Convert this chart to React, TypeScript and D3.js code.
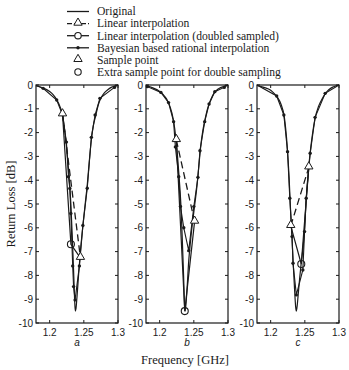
import React, { useRef, useEffect } from "react";
import * as d3 from "d3";

type Pt = [number, number];

const panelNames = ["a", "b", "c"];
const freqTicks = [1.2, 1.25, 1.3];
const lossTicks = [0, -1, -2, -3, -4, -5, -6, -7, -8, -9, -10];

const legendLabels = [
  "Original",
  "Linear interpolation",
  "Linear interpolation (doubled sampled)",
  "Bayesian based rational interpolation",
  "Sample point",
  "Extra sample point for double sampling",
];

// panel a
const originalA: Pt[] = [
  [1.18, -0.03], [1.19, -0.12], [1.2, -0.27], [1.205, -0.4], [1.21, -0.6],
  [1.215, -0.9], [1.219, -1.28], [1.222, -1.9], [1.225, -2.7], [1.228, -3.7],
  [1.231, -5.0], [1.233, -6.3], [1.235, -7.8], [1.2365, -9.0], [1.2375, -9.5],
  [1.2385, -9.4], [1.24, -8.9], [1.2425, -7.9], [1.245, -7.0], [1.2485, -5.95],
  [1.252, -5.0], [1.255, -4.2], [1.258, -3.2], [1.261, -2.3], [1.264, -1.7],
  [1.2675, -1.28], [1.271, -0.85], [1.275, -0.55], [1.28, -0.33], [1.285, -0.2],
  [1.29, -0.1], [1.295, -0.04], [1.3, 0],
];
const bayesA: Pt[] = [
  [1.18, -0.02], [1.1904, -0.14], [1.2103, -0.63], [1.2188, -1.25], [1.2245, -2.4],
  [1.2275, -3.85], [1.2295, -4.35], [1.231, -5.4], [1.2337, -7.6], [1.235, -8.47],
  [1.2372, -9.03], [1.2435, -7.6], [1.2486, -5.9], [1.255, -4.34], [1.261, -2.2],
  [1.2665, -1.26], [1.2735, -0.56], [1.2948, -0.1], [1.3, 0],
];
const linearA: Pt[] = [[1.2188, -1.23], [1.245, -7.26]];
const doubledA: Pt[] = [[1.2188, -1.23], [1.2311, -6.69], [1.245, -7.26]];

// panel b
const originalB: Pt[] = [
  [1.18, -0.02], [1.19, -0.12], [1.2, -0.27], [1.205, -0.4], [1.21, -0.58],
  [1.215, -0.9], [1.22, -1.45], [1.224, -2.3], [1.228, -3.7], [1.231, -5.0],
  [1.233, -6.4], [1.235, -8.0], [1.2365, -9.3], [1.2372, -9.5], [1.238, -9.35],
  [1.24, -8.6], [1.2425, -7.4], [1.245, -6.6], [1.248, -5.8], [1.251, -5.1],
  [1.254, -4.4], [1.257, -3.5], [1.26, -2.6], [1.263, -1.95], [1.266, -1.5],
  [1.27, -1.0], [1.275, -0.6], [1.28, -0.32], [1.285, -0.18], [1.29, -0.1],
  [1.295, -0.04], [1.3, 0],
];
const bayesB: Pt[] = [
  [1.18, 0], [1.182, -0.07], [1.2018, -0.31], [1.213, -0.74], [1.2204, -1.54],
  [1.223, -2.6], [1.2279, -3.85], [1.2304, -5.1], [1.2353, -6.0], [1.2425, -6.96],
  [1.25, -5.11], [1.256, -3.88], [1.259, -2.76], [1.2659, -1.54], [1.2723, -0.8],
  [1.2807, -0.28], [1.2945, -0.1], [1.3, 0],
];
const linearB: Pt[] = [[1.2244, -2.31], [1.2511, -5.74]];
const doubledB: Pt[] = [[1.2244, -2.31], [1.2367, -9.5], [1.2511, -5.74]];

// panel c
const originalC: Pt[] = [
  [1.18, -0.02], [1.19, -0.1], [1.2, -0.22], [1.205, -0.35], [1.21, -0.52],
  [1.215, -0.8], [1.22, -1.35], [1.224, -2.5], [1.227, -3.9], [1.229, -5.2],
  [1.231, -6.3], [1.233, -7.5], [1.235, -8.6], [1.2365, -9.3], [1.2375, -9.5],
  [1.2385, -9.35], [1.24, -8.9], [1.2425, -8.1], [1.245, -7.4], [1.2475, -6.8],
  [1.2495, -6.1], [1.252, -4.8], [1.2555, -3.5], [1.258, -2.8], [1.261, -2.1],
  [1.265, -1.4], [1.27, -0.9], [1.275, -0.6], [1.28, -0.36], [1.285, -0.2],
  [1.29, -0.1], [1.295, -0.04], [1.3, 0],
];
const bayesC: Pt[] = [
  [1.18, 0], [1.2088, -0.46], [1.2193, -1.26], [1.2247, -2.8], [1.228, -4.76],
  [1.2313, -6.37], [1.2327, -7.49], [1.2376, -8.82], [1.2471, -7.77], [1.2496, -6.16],
  [1.252, -4.76], [1.2578, -2.87], [1.265, -1.36], [1.2798, -0.35], [1.3, 0],
];
const linearC: Pt[] = [[1.2294, -5.92], [1.2558, -3.46]];
const doubledC: Pt[] = [[1.2294, -5.92], [1.2448, -7.52], [1.2558, -3.46]];

const originals = [originalA, originalB, originalC];
const bayes = [bayesA, bayesB, bayesC];
const linears = [linearA, linearB, linearC];
const doubleds = [doubledA, doubledB, doubledC];

const W = 349;
const H = 370;

const App = () => {
  const svgRef = useRef<SVGSVGElement>(null);

  useEffect(() => {
    const svg = d3.select(svgRef.current);
    svg.selectAll("*").remove();

    const top = 85;
    const bottom = 323;
    const panelLeft = [36, 146, 257];
    const panelW = 82;
    const ink = "#1a1a1a";
    const triPath = d3.symbol(d3.symbolTriangle, 30)();

    const yScale = d3.scaleLinear().domain([-10, 0]).range([bottom, top]);

    panelLeft.forEach((left, i) => {
      const xScale = d3.scaleLinear().domain([1.18, 1.3]).range([left, left + panelW]);
      const g = svg.append("g");

      const smooth = d3.line<Pt>().x((d) => xScale(d[0])).y((d) => yScale(d[1])).curve(d3.curveMonotoneX);
      const lin = d3.line<Pt>().x((d) => xScale(d[0])).y((d) => yScale(d[1]));

      // data
      g.append("path")
        .attr("d", smooth(originals[i]))
        .attr("fill", "none").attr("stroke", ink).attr("stroke-width", 1.2);

      g.append("path")
        .attr("d", lin(bayes[i]))
        .attr("fill", "none").attr("stroke", ink).attr("stroke-width", 1.1);
      g.selectAll(".dot")
        .data(bayes[i].slice(1, -1))
        .join("circle")
        .attr("cx", (d) => xScale(d[0]))
        .attr("cy", (d) => yScale(d[1]))
        .attr("r", 1.7)
        .attr("fill", ink);

      g.append("path")
        .attr("d", lin(linears[i]))
        .attr("fill", "none").attr("stroke", ink).attr("stroke-width", 1.3)
        .attr("stroke-dasharray", "7,4");

      g.append("path")
        .attr("d", lin(doubleds[i]))
        .attr("fill", "none").attr("stroke", ink).attr("stroke-width", 1.2);

      g.selectAll(".tri")
        .data(linears[i])
        .join("path")
        .attr("d", triPath)
        .attr("transform", (d) => `translate(${xScale(d[0])},${yScale(d[1]) - 0.8})`)
        .attr("fill", "white").attr("stroke", ink).attr("stroke-width", 1);

      g.append("circle")
        .attr("cx", xScale(doubleds[i][1][0]))
        .attr("cy", yScale(doubleds[i][1][1]))
        .attr("r", 3.5)
        .attr("fill", "none").attr("stroke", ink).attr("stroke-width", 1.1);

      // axes: inward ticks on all four sides
      const tickLen = 3;
      freqTicks.forEach((t) => {
        const x = xScale(t);
        g.append("line").attr("x1", x).attr("x2", x).attr("y1", bottom).attr("y2", bottom - tickLen)
          .attr("stroke", ink);
        g.append("line").attr("x1", x).attr("x2", x).attr("y1", top).attr("y2", top + tickLen)
          .attr("stroke", ink);
        g.append("text")
          .attr("x", x).attr("y", bottom + 13)
          .attr("text-anchor", "middle")
          .attr("font-family", "Liberation Sans, Arial, sans-serif")
          .attr("font-size", 10)
          .attr("fill", ink)
          .text(String(t));
      });
      lossTicks.forEach((t) => {
        const y = yScale(t);
        g.append("line").attr("x1", left).attr("x2", left + tickLen).attr("y1", y).attr("y2", y)
          .attr("stroke", ink);
        g.append("line").attr("x1", left + panelW).attr("x2", left + panelW - tickLen).attr("y1", y).attr("y2", y)
          .attr("stroke", ink);
        g.append("text")
          .attr("x", left - 3).attr("y", y + 3.5)
          .attr("text-anchor", "end")
          .attr("font-family", "Liberation Sans, Arial, sans-serif")
          .attr("font-size", 10)
          .attr("fill", ink)
          .text(String(t));
      });
      g.append("rect")
        .attr("x", left).attr("y", top)
        .attr("width", panelW).attr("height", bottom - top)
        .attr("fill", "none").attr("stroke", ink).attr("stroke-width", 1.2);

      g.append("text")
        .attr("x", left + panelW / 2).attr("y", 346)
        .attr("text-anchor", "middle")
        .attr("font-family", "Liberation Sans, Arial, sans-serif")
        .attr("font-style", "italic")
        .attr("font-size", 10)
        .attr("fill", ink)
        .text(panelNames[i]);
    });

    // axis titles
    svg.append("text")
      .attr("x", 185).attr("y", 364)
      .attr("text-anchor", "middle")
      .attr("font-family", "Liberation Serif, Times New Roman, serif")
      .attr("font-size", 12.5)
      .attr("fill", ink)
      .text("Frequency [GHz]");
    svg.append("text")
      .attr("transform", `translate(15,${(top + bottom) / 2}) rotate(-90)`)
      .attr("text-anchor", "middle")
      .attr("font-family", "Liberation Serif, Times New Roman, serif")
      .attr("font-size", 12.5)
      .attr("fill", ink)
      .text("Return Loss [dB]");

    // legend
    const lx1 = 67;
    const lx2 = 89;
    const lmid = (lx1 + lx2) / 2;
    legendLabels.forEach((label, i) => {
      const y = 11.5 + i * 12.1;
      const lg = svg.append("g");
      if (i < 4) {
        lg.append("line")
          .attr("x1", lx1).attr("x2", lx2).attr("y1", y).attr("y2", y)
          .attr("stroke", ink).attr("stroke-width", 1.3)
          .attr("stroke-dasharray", i === 1 ? "5,2" : null);
      }
      if (i === 1 || i === 4) {
        lg.append("path").attr("d", triPath)
          .attr("transform", `translate(${lmid},${y - 0.8})`)
          .attr("fill", "white").attr("stroke", ink).attr("stroke-width", 1);
      }
      if (i === 2 || i === 5) {
        lg.append("circle").attr("cx", lmid).attr("cy", y).attr("r", 3.2)
          .attr("fill", "white").attr("stroke", ink).attr("stroke-width", 1.1);
      }
      if (i === 3) {
        lg.append("circle").attr("cx", lmid).attr("cy", y).attr("r", 1.7).attr("fill", ink);
      }
      lg.append("text")
        .attr("x", 97).attr("y", y + 3.8)
        .attr("font-family", "Liberation Serif, Times New Roman, serif")
        .attr("font-size", 11.6)
        .attr("fill", ink)
        .text(label);
    });
  }, []);

  return (
    <div>
      <svg
        ref={svgRef}
        width={W}
        height={H}
        style={{ position: "absolute", left: 0, top: 0, background: "white" }}
      ></svg>
    </div>
  );
};

export default App;
